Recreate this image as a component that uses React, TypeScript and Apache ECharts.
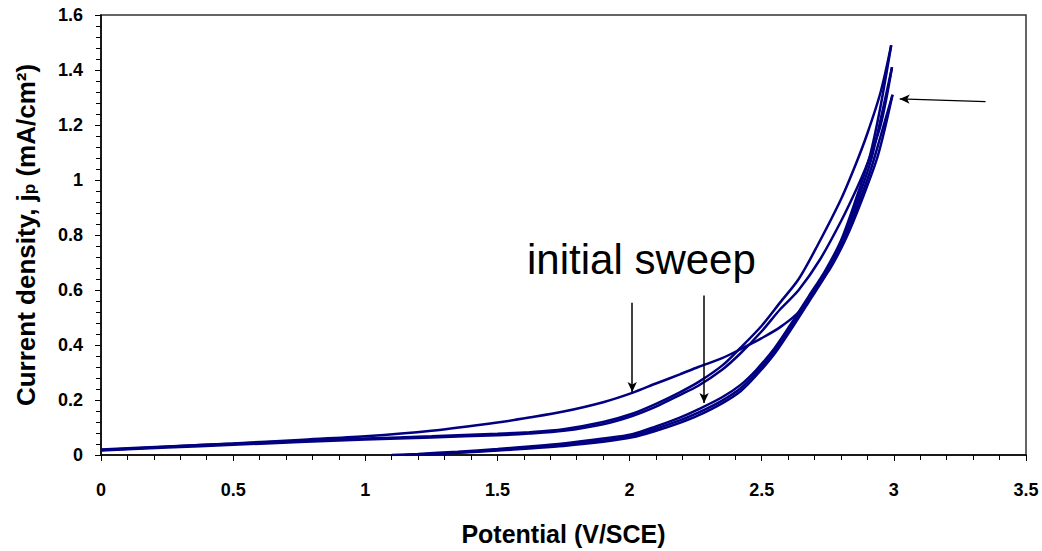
import React, { useEffect, useRef } from "react";
import * as echarts from "echarts";

// Potential (V/SCE) and current density (mA/cm²)
const c1fX = [0, 0.25, 0.5, 0.75, 1.0, 1.25, 1.5, 1.62, 1.75, 1.9, 2.01, 2.1, 2.19, 2.26, 2.35, 2.42, 2.5, 2.57, 2.64, 2.7, 2.76, 2.82, 2.88, 2.94, 2.995];
const c1fY = [0.018, 0.03, 0.042, 0.055, 0.068, 0.088, 0.118, 0.136, 0.158, 0.192, 0.226, 0.26, 0.293, 0.32, 0.352, 0.385, 0.425, 0.465, 0.52, 0.6, 0.68, 0.79, 0.93, 1.09, 1.31];

const c2fX = [0, 0.25, 0.5, 0.75, 1.0, 1.25, 1.5, 1.62, 1.75, 1.9, 2.01, 2.1, 2.19, 2.26, 2.35, 2.42, 2.5, 2.57, 2.64, 2.72, 2.8, 2.86, 2.9, 2.95, 2.993];
const c2fY = [0.016, 0.027, 0.037, 0.047, 0.056, 0.064, 0.072, 0.078, 0.088, 0.112, 0.142, 0.176, 0.218, 0.252, 0.31, 0.37, 0.45, 0.53, 0.6, 0.71, 0.85, 0.97, 1.06, 1.2, 1.41];

const c3fX = [0, 0.25, 0.5, 0.75, 1.0, 1.25, 1.5, 1.62, 1.75, 1.9, 2.01, 2.1, 2.19, 2.26, 2.35, 2.42, 2.5, 2.57, 2.64, 2.71, 2.8, 2.857, 2.9, 2.95, 2.99];
const c3fY = [0.02, 0.031, 0.041, 0.051, 0.06, 0.068, 0.077, 0.083, 0.094, 0.12, 0.15, 0.186, 0.228, 0.265, 0.325, 0.39, 0.47, 0.555, 0.64, 0.76, 0.93, 1.06, 1.17, 1.32, 1.49];

const r1X = [2.995, 2.95, 2.91, 2.86, 2.8, 2.74, 2.68, 2.62, 2.55, 2.48, 2.42, 2.35, 2.26, 2.19, 2.1, 2.01, 1.9, 1.75, 1.62, 1.5, 1.35, 1.25, 1.2];
const r1Y = [1.31, 1.16, 1.03, 0.9, 0.76, 0.65, 0.56, 0.47, 0.37, 0.29, 0.232, 0.188, 0.144, 0.117, 0.088, 0.064, 0.048, 0.033, 0.024, 0.016, 0.008, 0.003, 0];

const r2X = [2.993, 2.95, 2.91, 2.86, 2.8, 2.74, 2.68, 2.62, 2.55, 2.48, 2.42, 2.35, 2.26, 2.19, 2.1, 2.01, 1.9, 1.75, 1.62, 1.5, 1.35, 1.2, 1.15];
const r2Y = [1.41, 1.22, 1.06, 0.92, 0.77, 0.66, 0.57, 0.48, 0.38, 0.3, 0.243, 0.198, 0.154, 0.126, 0.096, 0.07, 0.053, 0.037, 0.027, 0.018, 0.009, 0.002, 0];

const r3X = [2.99, 2.95, 2.91, 2.86, 2.8, 2.74, 2.68, 2.62, 2.55, 2.48, 2.42, 2.35, 2.26, 2.19, 2.1, 2.01, 1.9, 1.75, 1.62, 1.5, 1.35, 1.2, 1.1];
const r3Y = [1.49, 1.27, 1.09, 0.94, 0.78, 0.67, 0.58, 0.49, 0.39, 0.31, 0.255, 0.21, 0.166, 0.136, 0.104, 0.076, 0.06, 0.042, 0.031, 0.022, 0.012, 0.004, 0];

const curves = [
  [c1fX, c1fY],
  [c2fX, c2fY],
  [c3fX, c3fY],
  [r1X, r1Y],
  [r2X, r2Y],
  [r3X, r3Y],
];

// annotation arrows: [fromX, fromY, toX, toY]
const arrows = [
  [2.01, 0.554, 2.01, 0.229],
  [2.282, 0.58, 2.282, 0.189],
  [3.347, 1.285, 3.022, 1.295],
];

const FONT = "'Liberation Sans', Arial, sans-serif";
const LINE = "#000080";

export default function App() {
  const ref = useRef<HTMLDivElement>(null);
  useEffect(() => {
    const chart = echarts.init(ref.current!, null, { renderer: "svg" });
    const series: any[] = curves.map(([xs, ys]) => ({
      type: "line",
      data: xs.map((x, k) => [x, ys[k]]),
      showSymbol: false,
      smooth: 0.3,
      lineStyle: { color: LINE, width: 2.5 },
      z: 2,
    }));
    series.push({
      type: "line",
      data: [],
      markLine: {
        silent: true,
        animation: false,
        symbol: ["none", "arrow"],
        symbolSize: [7, 10],
        label: { show: false },
        lineStyle: { color: "#000", width: 1.5, type: "solid" },
        data: arrows.map(([x1, y1, x2, y2]) => [
          { coord: [x1, y1] },
          { coord: [x2, y2] },
        ]),
      },
    });
    chart.setOption({
      animation: false,
      grid: {
        left: 101,
        right: 16,
        top: 15,
        bottom: 94,
        show: true,
        borderColor: "#333",
        borderWidth: 1.5,
      },
      xAxis: {
        type: "value",
        min: 0,
        max: 3.5,
        interval: 0.5,
        name: "Potential (V/SCE)",
        nameLocation: "middle",
        nameGap: 66,
        nameTextStyle: { fontFamily: FONT, fontWeight: "bold", fontSize: 25, color: "#000" },
        axisLine: { lineStyle: { color: "#000", width: 1.5 } },
        axisTick: { length: 6, lineStyle: { color: "#000", width: 1 } },
        minorTick: { show: true, splitNumber: 5, length: 5, lineStyle: { color: "#000", width: 1 } },
        splitLine: { show: false },
        axisLabel: { fontFamily: FONT, fontWeight: "bold", fontSize: 18, color: "#000", margin: 26 },
      },
      yAxis: {
        type: "value",
        min: 0,
        max: 1.6,
        interval: 0.2,
        name: "{a|Current density, j}{s|p}{a| (mA/cm²)}",
        nameLocation: "middle",
        nameGap: 62,
        nameTextStyle: {
          fontFamily: FONT,
          fontWeight: "bold",
          fontSize: 26,
          color: "#000",
          rich: {
            a: { fontFamily: FONT, fontWeight: "bold", fontSize: 26, color: "#000" },
            s: { fontFamily: FONT, fontWeight: "bold", fontSize: 17, color: "#000", padding: [7, 0, 0, 0] },
          },
        },
        axisLine: { show: true, lineStyle: { color: "#000", width: 1.5 } },
        axisTick: { show: true, length: 6, lineStyle: { color: "#000", width: 1 } },
        minorTick: { show: true, splitNumber: 5, length: 5, lineStyle: { color: "#000", width: 1 } },
        splitLine: { show: false },
        axisLabel: { fontFamily: FONT, fontWeight: "bold", fontSize: 18, color: "#000", margin: 18 },
      },
      graphic: [
        {
          type: "text",
          left: 527,
          top: 238,
          style: { text: "initial sweep", fontFamily: FONT, fontSize: 42, fill: "#000" },
        },
      ],
      series,
    });
    return () => chart.dispose();
  }, []);
  return (
    <div
      ref={ref}
      style={{ position: "fixed", left: 0, top: 0, width: 1042, height: 551, background: "#fff" }}
    />
  );
}
